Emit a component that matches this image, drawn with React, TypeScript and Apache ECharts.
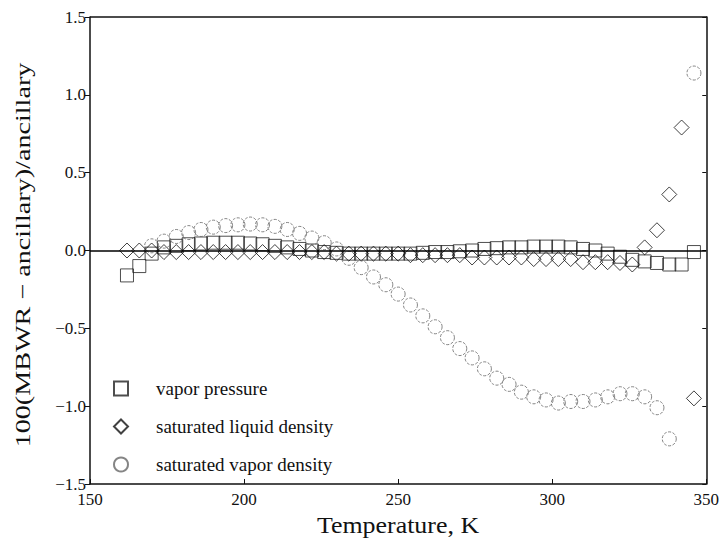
import React, { useEffect, useRef } from "react";
import * as echarts from "echarts";

const temperatures = [
  162, 166, 170, 174, 178, 182, 186, 190, 194, 198, 202, 206, 210, 214, 218, 222,
  226, 230, 234, 238, 242, 246, 250, 254, 258, 262, 266, 270, 274, 278, 282, 286,
  290, 294, 298, 302, 306, 310, 314, 318, 322, 326, 330, 334, 338, 342, 346,
];

const vaporPressure = [
  -0.16, -0.1, -0.02, 0.02, 0.03, 0.04, 0.045, 0.05, 0.05, 0.05, 0.045, 0.04, 0.03, 0.02, 0.01, 0.0,
  -0.01, -0.015, -0.02, -0.02, -0.02, -0.02, -0.02, -0.02, -0.015, -0.01, -0.01, -0.005, 0.0, 0.01, 0.015, 0.02,
  0.02, 0.025, 0.025, 0.025, 0.02, 0.01, 0.0, -0.02, -0.04, -0.06, -0.07, -0.08, -0.09, -0.09, -0.01,
];

const liquidDensity = [
  0.0, 0.0, 0.0, -0.01, -0.01, -0.01, -0.01, -0.01, -0.01, -0.01, -0.01, -0.01, -0.01, -0.01, -0.01, -0.01,
  -0.01, -0.02, -0.02, -0.02, -0.02, -0.02, -0.02, -0.03, -0.03, -0.03, -0.03, -0.03, -0.045, -0.045, -0.045, -0.045,
  -0.045, -0.055, -0.055, -0.055, -0.055, -0.075, -0.075, -0.075, -0.08, -0.09, 0.02, 0.13, 0.36, 0.79, -0.95,
];

const vaporDensity: (number | null)[] = [
  null, null, 0.03, 0.06, 0.09, 0.115, 0.135, 0.15, 0.16, 0.165, 0.17, 0.165, 0.155, 0.135, 0.11, 0.08,
  0.05, 0.01, -0.05, -0.11, -0.17, -0.22, -0.28, -0.35, -0.42, -0.49, -0.56, -0.63, -0.69, -0.76, -0.82, -0.86,
  -0.91, -0.94, -0.96, -0.98, -0.97, -0.97, -0.96, -0.94, -0.92, -0.92, -0.94, -1.01, -1.21, null, 1.14,
];

const seriesNames = ["vapor pressure", "saturated liquid density", "saturated vapor density"];
const xTitle = "Temperature, K";
const yTitle = "100(MBWR \u2212 ancillary)/ancillary";

const FONT = "'Liberation Serif', 'DejaVu Serif', serif";

const pairs = (ys: (number | null)[]) =>
  temperatures.map((t, i) => [t, ys[i]]).filter((p) => p[1] !== null);

export default function App() {
  const ref = useRef<HTMLDivElement>(null);
  useEffect(() => {
    document.body.style.margin = "0";
    if (!ref.current) return;
    const chart = echarts.init(ref.current, null, { renderer: "svg" });
    const fmt = (v: number) => (v < 0 ? "\u2212" : "") + Math.abs(v).toFixed(1);
    chart.setOption({
      animation: false,
      backgroundColor: "#ffffff",
      grid: { left: 90, top: 17, width: 617, height: 467, containLabel: false },
      legend: {
        orient: "vertical",
        left: 113,
        top: 379,
        padding: 0,
        itemGap: 19,
        itemWidth: 14,
        itemHeight: 14,
        data: seriesNames,
        textStyle: {
          fontFamily: FONT,
          fontSize: 19,
          color: "#111",
          padding: [0, 0, 0, 23],
        },
      },
      xAxis: {
        type: "value",
        min: 150,
        max: 350,
        interval: 50,
        axisLine: { show: true, onZero: false, lineStyle: { color: "#111", width: 1.5 } },
        axisTick: { show: true, inside: true, length: 5, lineStyle: { color: "#111" } },
        axisLabel: { fontFamily: FONT, fontSize: 17, color: "#111", margin: 7 },
        splitLine: { show: false },
      },
      yAxis: [
        {
          type: "value",
          min: -1.5,
          max: 1.5,
          interval: 0.5,
          axisLine: { show: true, onZero: false, lineStyle: { color: "#111", width: 1.5 } },
          axisTick: { show: true, inside: false, length: 5, lineStyle: { color: "#111" } },
          axisLabel: { fontFamily: FONT, fontSize: 17, color: "#111", margin: 4, formatter: fmt },
          splitLine: { show: false },
        },
        {
          type: "value",
          min: -1.5,
          max: 1.5,
          interval: 0.5,
          position: "right",
          axisLine: { show: true, onZero: false, lineStyle: { color: "#111", width: 1.5 } },
          axisTick: { show: true, inside: true, length: 4, lineStyle: { color: "#111" } },
          axisLabel: { show: false },
          splitLine: { show: false },
        },
      ],
      graphic: [
        {
          type: "line",
          shape: { x1: 90, y1: 17, x2: 707, y2: 17 },
          style: { stroke: "#111", lineWidth: 1.5 },
        },
        {
          type: "text",
          x: 398,
          y: 525,
          scaleX: 1.08,
          style: {
            text: xTitle,
            font: `24px ${FONT}`,
            fill: "#111",
            align: "center",
            verticalAlign: "middle",
          },
        },
        {
          type: "text",
          x: 22,
          y: 255,
          rotation: Math.PI / 2,
          scaleX: 1.28,
          style: {
            text: yTitle,
            font: `22px ${FONT}`,
            fill: "#111",
            align: "center",
            verticalAlign: "middle",
          },
        },
      ],
      series: [
        {
          name: seriesNames[0],
          type: "scatter",
          symbol: "rect",
          symbolSize: 13,
          data: pairs(vaporPressure),
          itemStyle: { color: "rgba(255,255,255,0)", borderColor: "#222", borderWidth: 1 },
          markLine: {
            silent: true,
            symbol: ["none", "none"],
            label: { show: false },
            lineStyle: { color: "#000", width: 1.6, type: "solid" },
            data: [{ yAxis: 0 }],
          },
          z: 3,
        },
        {
          name: seriesNames[1],
          type: "scatter",
          symbol: "diamond",
          symbolSize: 15,
          data: pairs(liquidDensity),
          itemStyle: { color: "rgba(255,255,255,0)", borderColor: "#111", borderWidth: 1 },
          z: 3,
        },
        {
          name: seriesNames[2],
          type: "scatter",
          symbol: "circle",
          symbolSize: 14,
          data: pairs(vaporDensity),
          itemStyle: {
            color: "rgba(255,255,255,0)",
            borderColor: "#666",
            borderWidth: 1,
            borderType: [3, 1.5],
          },
          z: 3,
        },
      ],
    });
    return () => chart.dispose();
  }, []);
  return <div ref={ref} style={{ width: 722, height: 543 }} />;
}
